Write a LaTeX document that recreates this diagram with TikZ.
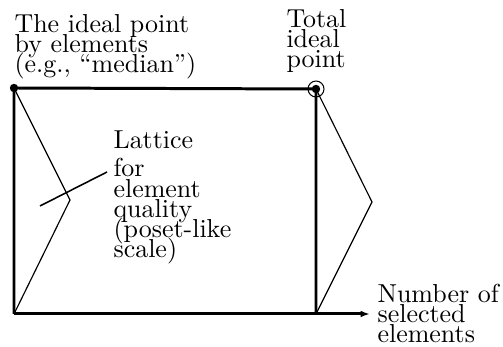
\documentclass[tikz,border=0pt]{standalone}
\usetikzlibrary{arrows.meta}
\newcommand\lblfont{\fontsize{10}{7.8}\selectfont\lineskiplimit-100pt\relax\lineskip0pt\relax}
\begin{document}
\begin{tikzpicture}[x=0.385pt,y=-0.385pt,
  lbl/.style={anchor=base west,inner sep=0pt,align=left,font=\lblfont},
  frame/.style={line width=1.15pt},
  zig/.style={line width=0.45pt}]
\useasboundingbox (0,0) rectangle (503,347);
\coordinate (ideal) at (14,88);
\coordinate (total) at (316,89);
\coordinate (orig) at (14,314);
\coordinate (foot) at (316,314);
\coordinate (xend) at (370,314);
\coordinate (lkink) at (70,200);
\coordinate (rkink) at (372,202);
\coordinate (lat) at (40,206);
\coordinate (forpt) at (107,172);
\draw[frame] (orig) -- (ideal) -- (total) -- (foot);
\draw[frame,-{Latex[length=3.6pt,width=2.6pt]}] (orig) -- (xend);
\draw[zig] (ideal) -- (lkink) -- (orig);
\draw[zig] (total) -- (rkink) -- (foot);
\draw[line width=0.6pt] (lat) -- (forpt);
\fill (ideal) circle (4.2);
\fill (total) circle (4.2);
\draw[line width=0.4pt] (total) circle (8);
% base anchor sits on the last line
\node[lbl] (byelem) at (14,73) {The ideal point\\by elements\\(e.g., ``median'')};
\node[lbl] (totlbl) at (286,68) {Total\\ideal\\point};
\node[lbl] (lattice) at (113,149) {Lattice};
\node[lbl] (quality) at (113,258) {for\\element\\quality\\(poset-like\\scale)};
\node[lbl] (count) at (377,343) {Number of\\selected\\elements};
\end{tikzpicture}
\end{document}
